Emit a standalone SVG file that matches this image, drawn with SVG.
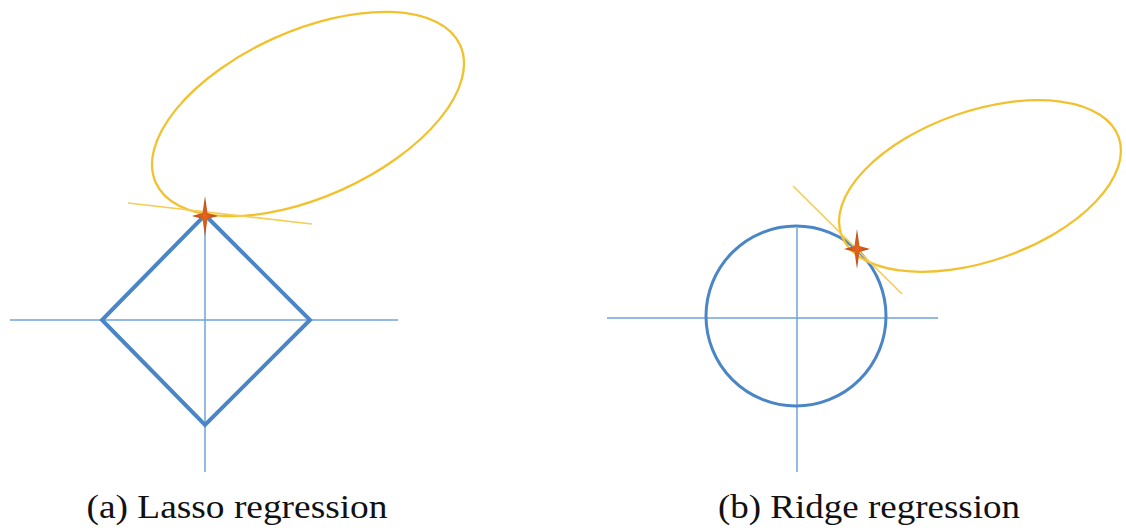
<svg xmlns="http://www.w3.org/2000/svg" width="1126" height="530" viewBox="0 0 1126 530">
<style>
.axis{stroke:#6fa3d8;stroke-width:1.5;fill:none}
.shape{stroke:#4a86c6;fill:none;stroke-linejoin:miter}
.ell{stroke:#f2c12e;stroke-width:2.3;fill:none}
.tan{stroke:#f5cd55;stroke-width:1.6;fill:none}
.lbl{font-family:"Liberation Serif","DejaVu Serif",serif;font-size:34px;fill:#111;text-anchor:middle}
</style>
<defs>
<radialGradient id="sg" cx="50%" cy="50%" r="50%">
<stop offset="0" stop-color="#e8641c"/>
<stop offset="1" stop-color="#b24a1a"/>
</radialGradient>
<path id="star" d="M0,-20 L2.5,-3 L13,0 L2.5,3 L0,20 L-2.5,3 L-13,0 L-2.5,-3 Z" fill="url(#sg)"/>
</defs>
<rect width="1126" height="530" fill="#fff"/>
<g id="lasso">
<line class="axis" x1="10" y1="320" x2="398" y2="320"/>
<line class="axis" x1="205" y1="205" x2="205" y2="472"/>
<polygon class="shape" stroke-width="4" points="205,215 310,320 205,425 102,320"/>
<ellipse class="ell" cx="308" cy="114" rx="167" ry="83" transform="rotate(-24.3 308 114)"/>
<line class="tan" x1="128" y1="203" x2="312" y2="224"/>
<use href="#star" x="205" y="216"/>
</g>
<g id="ridge">
<line class="axis" x1="607" y1="318" x2="938" y2="318"/>
<line class="axis" x1="797" y1="228" x2="797" y2="472"/>
<circle class="shape" stroke-width="3" cx="796" cy="316" r="90"/>
<ellipse class="ell" cx="980" cy="186" rx="147" ry="75" transform="rotate(-19.3 980 186)"/>
<line class="tan" x1="793" y1="186" x2="902" y2="294"/>
<use href="#star" x="857" y="249"/>
</g>
<g id="labels">
<text class="lbl" x="237" y="518" textLength="301" lengthAdjust="spacingAndGlyphs">(a) Lasso regression</text>
<text class="lbl" x="869" y="518" textLength="302" lengthAdjust="spacingAndGlyphs">(b) Ridge regression</text>
</g>
</svg>
